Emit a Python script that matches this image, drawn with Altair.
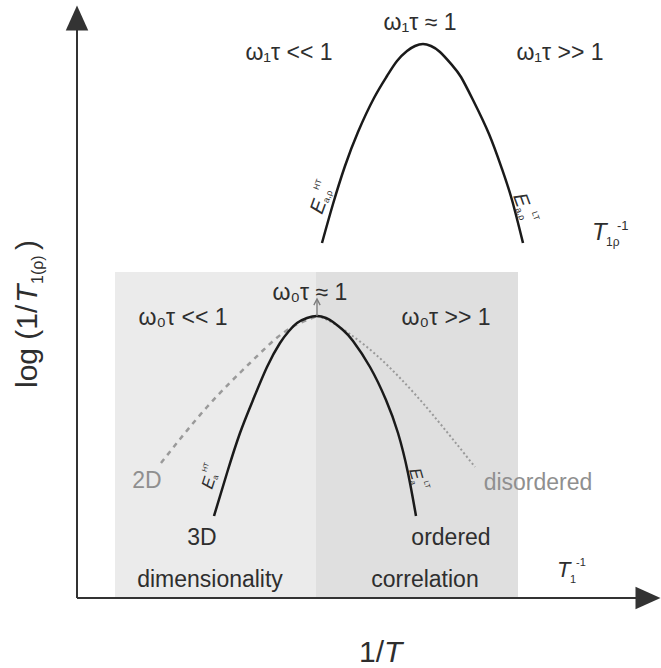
import altair as alt
import pandas as pd

FONT = "Liberation Sans"
INK = "#1a1a1a"
TEXT = "#2e2e2e"
GREY = "#8f8f8f"
AXIS = "#333333"

# Schematic frame: x = 1/T, y = log(1/T1(rho)); arbitrary units, origin at the axis corner
X_DOMAIN = [-77, 584]
Y_DOMAIN = [-70, 598]

# Shaded regimes along 1/T (dimensionality | correlation)
band_start = [38, 239]
band_end = [239, 441]
band_top = [326, 326]
band_fill = ["#ebebeb", "#dfdfdf"]

# Rotating-frame relaxation rate T1rho^-1 (upper maximum, omega_1 tau = 1)
rho_x = [245, 256, 268, 281, 297, 310, 320, 330, 338, 346, 354, 363, 375, 384, 396, 412, 425, 435, 446]
rho_y = [355, 394, 432, 466, 500, 522, 537, 547, 552, 554, 552, 546, 533, 521, 498, 464, 429, 398, 355]

# Spin-lattice relaxation rate T1^-1 (lower maximum, omega_0 tau = 1)
t1_x = [137, 150, 163, 176, 190, 203, 212, 220, 230, 240, 249, 256, 266, 276, 293, 309, 321, 331, 339]
t1_y = [82, 125, 165, 198, 231, 255, 267, 275, 280, 282, 280, 276, 268, 257, 231, 198, 165, 125, 82]

# Low-dimensional (2D) high-temperature flank
flank2d_x = [84, 130, 173, 206, 230, 240]
flank2d_y = [135, 191, 235, 265, 278, 282]

# Disordered low-temperature flank
disordered_x = [240, 256, 290, 323, 356, 398]
disordered_y = [282, 275, 251, 220, 183, 131]

# Region and regime labels
label_text = ["ω₁τ ≈ 1", "ω₁τ << 1", "ω₁τ >> 1", "ω₀τ ≈ 1", "ω₀τ << 1", "ω₀τ >> 1",
              "2D", "disordered", "3D", "ordered", "dimensionality", "correlation"]
label_x = [343, 212, 483, 233, 106, 369, 70, 461, 125, 374, 133, 348]
label_y = [568, 538, 538, 298, 273, 273, 110, 108, 53, 53, 11, 11]
label_tone = ["dark"] * 6 + ["grey", "grey"] + ["dark"] * 4


def xq(field="x"):
    return alt.X(f"{field}:Q", scale=alt.Scale(domain=X_DOMAIN, nice=False, zero=False), axis=None)


def yq(field="y"):
    return alt.Y(f"{field}:Q", scale=alt.Scale(domain=Y_DOMAIN, nice=False, zero=False), axis=None)


def point_chart(x, y):
    return alt.Chart(pd.DataFrame({"x": [x], "y": [y]})).encode(x=xq(), y=yq())


def curve(xs, ys, **style):
    df = pd.DataFrame({"x": xs, "y": ys})
    return alt.Chart(df).mark_line(interpolate="natural", **style).encode(x=xq(), y=yq())


layers = []

# shaded bands
bands = pd.DataFrame({"x": band_start, "x2": band_end, "y": [0, 0], "y2": band_top, "fill": band_fill})
layers.append(
    alt.Chart(bands).mark_rect().encode(
        x=xq(), x2=alt.X2("x2"), y=yq(), y2=alt.Y2("y2"),
        color=alt.Color("fill:N", scale=None),
    )
)

# axes with arrow heads
axes = pd.DataFrame({"x": [0, 0], "y": [0, 0], "x2": [0, 566], "y2": [572, 0]})
layers.append(
    alt.Chart(axes).mark_rule(color=AXIS, strokeWidth=2).encode(
        x=xq(), y=yq(), x2=alt.X2("x2"), y2=alt.Y2("y2")
    )
)
layers.append(point_chart(0, 580).mark_point(
    shape="M0,-1L0.9,1L-0.9,1Z", size=625, filled=True, color=AXIS, opacity=1))
layers.append(point_chart(571, 0).mark_point(
    shape="M1,0L-1,0.9L-1,-0.9Z", size=625, filled=True, color=AXIS, opacity=1))

# relaxation curves
layers.append(curve(flank2d_x, flank2d_y, color="#9a9a9a", strokeWidth=2.5, strokeDash=[5, 5]))
layers.append(curve(disordered_x, disordered_y, color="#9a9a9a", strokeWidth=2, strokeDash=[2, 2.5]))
layers.append(curve(rho_x, rho_y, color=INK, strokeWidth=2.5))
layers.append(curve(t1_x, t1_y, color=INK, strokeWidth=2.5))

# small arrow marking the maximum
layers.append(
    alt.Chart(pd.DataFrame({"x": [240], "y": [282], "y2": [298]})).mark_rule(
        color="#7a7a7a", strokeWidth=1.3
    ).encode(x=xq(), y=yq(), y2=alt.Y2("y2"))
)
layers.append(point_chart(240, 296).mark_point(
    shape="M-1,1L0,-1L1,1", size=40, filled=False, color="#7a7a7a", strokeWidth=1.3, opacity=1))

# regime labels
labels = pd.DataFrame({"x": label_x, "y": label_y, "text": label_text, "tone": label_tone})
layers.append(
    alt.Chart(labels).mark_text(font=FONT, fontSize=23, align="center", baseline="alphabetic").encode(
        x=xq(), y=yq(), text="text:N",
        color=alt.Color("tone:N", scale=alt.Scale(domain=["dark", "grey"], range=[TEXT, GREY]), legend=None),
    )
)


def rich(x, y, pieces, angle=0):
    """pieces: (text, size, italic, dx, dy)"""
    out = []
    for text, size, italic, dx, dy in pieces:
        props = dict(text=text, font=FONT, fontSize=size, align="left", baseline="alphabetic",
                     color=TEXT, dx=dx, dy=dy)
        if italic:
            props["fontStyle"] = "italic"
        if angle:
            props["angle"] = angle
        out.append(point_chart(x, y).mark_text(**props))
    return out


# activation-energy labels along the flanks
layers += rich(245, 383, [("E", 20, True, 0, 0), ("a,ρ", 9, False, 13, 2), ("HT", 8, False, 22, -12)], angle=290)
layers += rich(436, 402, [("E", 20, True, 0, 0), ("a,ρ", 9, False, 13, 2), ("LT", 8, False, 22, -12)], angle=70)
layers += rich(135, 108, [("E", 17, True, 0, 0), ("a", 8, False, 11, 2), ("HT", 7, False, 15, -11)], angle=288)
layers += rich(332, 128, [("E", 17, True, 0, 0), ("a", 8, False, 11, 2), ("LT", 7, False, 15, -11)], angle=74)

# rate symbols
layers += rich(515, 358, [("T", 24, True, 0, 0), ("1ρ", 12, False, 14, 6), ("-1", 13, False, 25, -10)])
layers += rich(480, 21, [("T", 22, True, 0, 0), ("1", 11, False, 13, 6), ("-1", 11, False, 19, -11)])

# axis titles
layers += rich(307, -64, [("1/", 30, False, -25, 0), ("T", 30, True, 0, 0)])
layers += rich(-40, 210, [("log (1/", 30, False, 0, 0), ("T", 30, True, 85, 0),
                          ("1(ρ)", 16, False, 104, 6), (")", 30, False, 138, 0)], angle=270)

chart = alt.layer(*layers).properties(
    width=661, height=668, padding=0, autosize=alt.AutoSizeParams(type="none")
).configure_view(stroke=None)

chart.save("out.html", embed_options={"renderer": "svg", "actions": False})
